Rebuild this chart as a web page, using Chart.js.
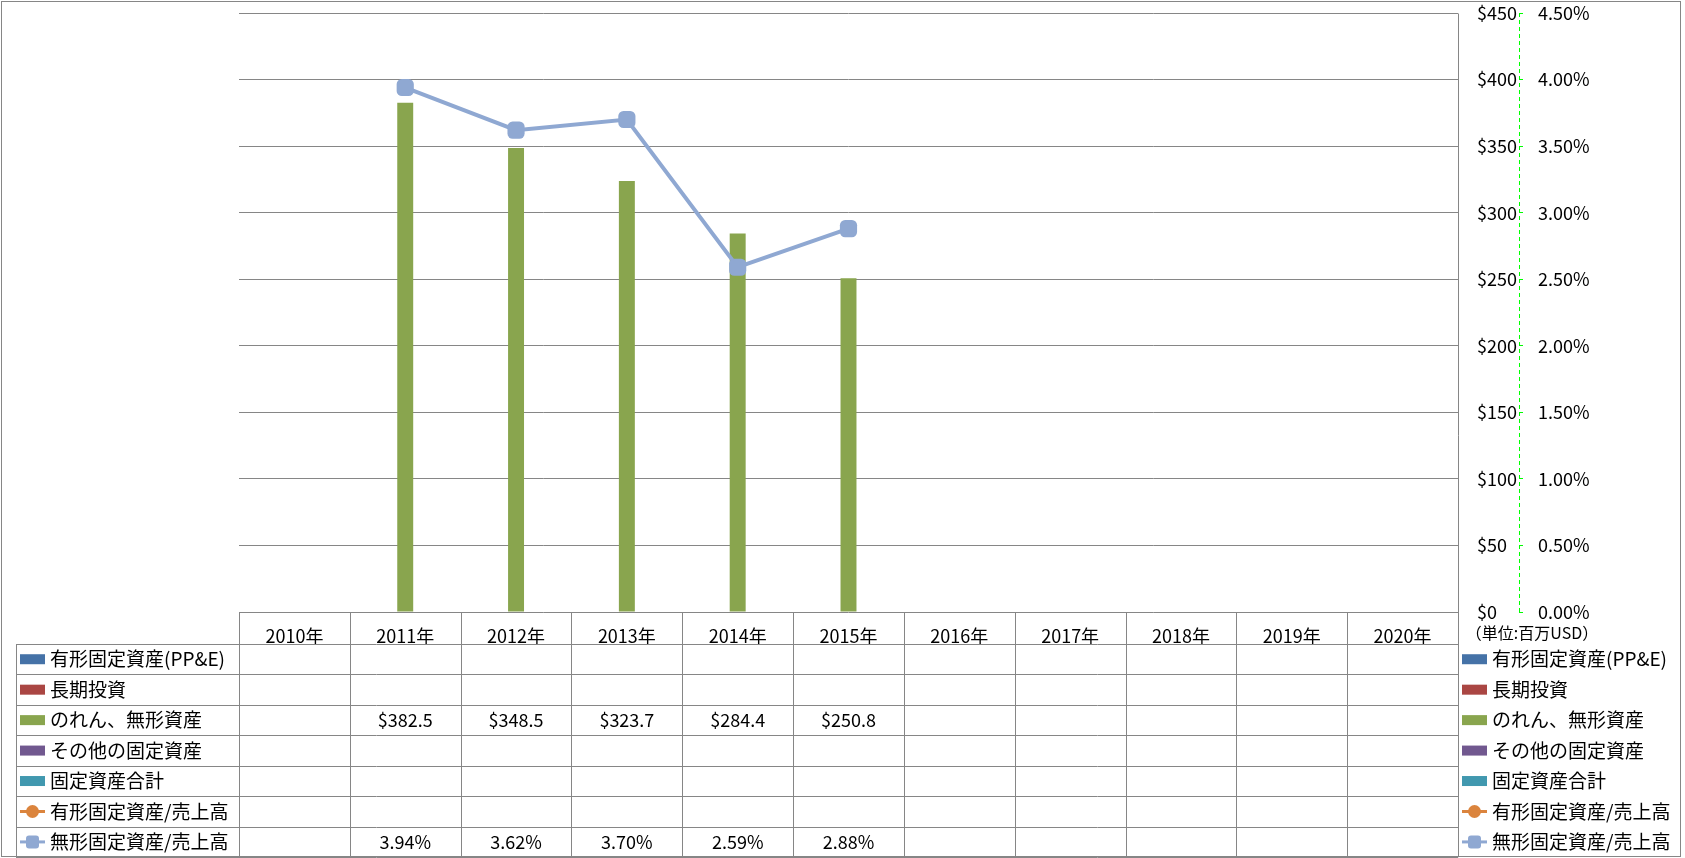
<!DOCTYPE html>
<html>
<head>
<meta charset="utf-8">
<script src="https://cdn.jsdelivr.net/npm/chart.js"></script>
<style>
  body { margin: 0; background: #fff; }
  #wrap { width: 1685px; height: 858px; }
</style>
</head>
<body>
<div id="wrap"><canvas id="assetChart" width="1685" height="858"></canvas></div>
<script>
// categories
const years = ["2010年", "2011年", "2012年", "2013年", "2014年", "2015年", "2016年", "2017年", "2018年", "2019年", "2020年"];

// bar series (百万USD)
const ppe = [null, null, null, null, null, null, null, null, null, null, null];
const longTermInvest = [null, null, null, null, null, null, null, null, null, null, null];
const goodwillIntangibles = [null, 382.5, 348.5, 323.7, 284.4, 250.8, null, null, null, null, null];
const otherFixed = [null, null, null, null, null, null, null, null, null, null, null];
const totalFixed = [null, null, null, null, null, null, null, null, null, null, null];

// line series (%)
const ppeToSales = [null, null, null, null, null, null, null, null, null, null, null];
const intangibleToSales = [null, 3.94, 3.62, 3.70, 2.59, 2.88, null, null, null, null, null];

// axis ranges
const dollarMax = 450, dollarStep = 50;
const pctMax = 4.5, pctStep = 0.5;
const unitLabel = "（単位:百万USD）";

const FONT = "'Noto Sans CJK JP', sans-serif";
const GRID = "#868686";

const series = [
  { label: "有形固定資産(PP&E)", data: ppe, color: "#4572A7", kind: "bar" },
  { label: "長期投資", data: longTermInvest, color: "#AA4643", kind: "bar" },
  { label: "のれん、無形資産", data: goodwillIntangibles, color: "#89A54E", kind: "bar" },
  { label: "その他の固定資産", data: otherFixed, color: "#71588F", kind: "bar" },
  { label: "固定資産合計", data: totalFixed, color: "#4198AF", kind: "bar" },
  { label: "有形固定資産/売上高", data: ppeToSales, color: "#DB843D", kind: "line", marker: "circle" },
  { label: "無形固定資産/売上高", data: intangibleToSales, color: "#8FA8D2", kind: "line", marker: "rectRounded" }
];

function fmt(s, v) {
  if (v === null || v === undefined) return "";
  return s.kind === "bar" ? "$" + v.toFixed(1) : v.toFixed(2) + "%";
}

function drawKey(ctx, s, x, y) {
  ctx.save();
  if (s.kind === "bar") {
    ctx.fillStyle = s.color;
    ctx.fillRect(x, y - 5, 25, 10);
  } else {
    ctx.strokeStyle = s.color;
    ctx.lineWidth = 3;
    ctx.beginPath();
    ctx.moveTo(x, y);
    ctx.lineTo(x + 25, y);
    ctx.stroke();
    ctx.fillStyle = s.color;
    if (s.marker === "circle") {
      ctx.beginPath();
      ctx.arc(x + 12.5, y, 6.5, 0, Math.PI * 2);
      ctx.fill();
    } else {
      ctx.beginPath();
      ctx.roundRect(x + 6, y - 6.5, 13, 13, 3);
      ctx.fill();
    }
  }
  ctx.restore();
}

const tablePlugin = {
  id: "dataTable",
  afterDraw(chart) {
    const ctx = chart.ctx;
    const area = chart.chartArea;
    const xs = chart.scales.x;
    const y2 = chart.scales.y2;
    const left = area.left, right = area.right;
    const colW = (right - left) / years.length;
    const headTop = area.bottom;
    const headBottom = xs.bottom;
    const rowH = 30.45;
    const tableBottom = headBottom + rowH * series.length;
    const keyColLeft = 16;
    const px = v => Math.round(v) + 0.5;

    ctx.save();
    ctx.strokeStyle = GRID;
    ctx.lineWidth = 1;
    ctx.beginPath();
    // vertical lines
    for (let i = 0; i < years.length; i++) {
      const x = px(left + i * colW);
      ctx.moveTo(x, px(headTop));
      ctx.lineTo(x, tableBottom);
    }
    ctx.moveTo(px(right), px(area.top));
    ctx.lineTo(px(right), tableBottom);
    ctx.moveTo(px(keyColLeft), px(headBottom));
    ctx.lineTo(px(keyColLeft), tableBottom);
    // horizontal lines
    for (let r = 0; r <= series.length; r++) {
      const y = px(headBottom + r * rowH);
      ctx.moveTo(keyColLeft, y);
      ctx.lineTo(right, y);
    }
    ctx.stroke();

    // outer border
    ctx.strokeRect(1.5, 1.5, 1679, 855);

    // dashed secondary axis line
    ctx.strokeStyle = "#00FF00";
    ctx.setLineDash([4, 3]);
    ctx.beginPath();
    ctx.moveTo(px(y2.left), y2.getPixelForValue(pctMax));
    ctx.lineTo(px(y2.left), y2.getPixelForValue(0));
    ctx.stroke();
    ctx.setLineDash([]);

    ctx.fillStyle = "#000";
    ctx.textBaseline = "middle";
    series.forEach((s, r) => {
      const cy = headBottom + r * rowH + rowH / 2;
      drawKey(ctx, s, 20, cy);
      ctx.font = "19px " + FONT;
      ctx.textAlign = "left";
      ctx.fillText(s.label, 50, cy);
      ctx.font = "18px " + FONT;
      ctx.textAlign = "center";
      s.data.forEach((v, i) => {
        const t = fmt(s, v);
        if (t) ctx.fillText(t, left + i * colW + colW / 2, cy);
      });
      // right-hand legend
      drawKey(ctx, s, 1462, cy);
      ctx.font = "19px " + FONT;
      ctx.textAlign = "left";
      ctx.fillText(s.label, 1492, cy);
    });

    ctx.font = "16px " + FONT;
    ctx.textAlign = "center";
    ctx.fillText(unitLabel, 1532, 633);
    ctx.restore();
  }
};

Chart.defaults.color = "#000";
Chart.defaults.font.family = FONT;
Chart.defaults.font.size = 18;

const datasets = series.map(s => {
  if (s.kind === "bar") {
    return {
      type: "bar",
      label: s.label,
      data: s.data,
      backgroundColor: s.color,
      yAxisID: "y",
      categoryPercentage: 0.72,
      barPercentage: 1,
      order: 2
    };
  }
  return {
    type: "line",
    label: s.label,
    data: s.data,
    borderColor: s.color,
    backgroundColor: s.color,
    borderWidth: 4,
    pointStyle: s.marker,
    pointRadius: 10,
    pointBackgroundColor: s.color,
    pointBorderColor: s.color,
    pointBorderWidth: 0,
    yAxisID: "y2",
    order: 1
  };
});

const noPad = scale => { scale.paddingTop = 0; scale.paddingBottom = 0; };

const ctx = document.getElementById("assetChart").getContext("2d");
const assetChart = new Chart(ctx, {
  type: "bar",
  data: { labels: years, datasets: datasets },
  options: {
    responsive: false,
    animation: false,
    layout: { padding: { left: 239, right: 85, top: 13, bottom: 214 } },
    plugins: { legend: { display: false }, tooltip: { enabled: false } },
    scales: {
      x: {
        offset: true,
        grid: { display: false },
        border: { display: false },
        ticks: { padding: 5, maxRotation: 0 },
        afterFit: scale => { scale.height = 32; }
      },
      y: {
        position: "right",
        weight: 0,
        min: 0,
        max: dollarMax,
        ticks: { stepSize: dollarStep, padding: 19, callback: v => "$" + v },
        grid: { color: GRID, drawTicks: false },
        border: { display: false },
        afterFit: scale => { scale.width = 61; noPad(scale); }
      },
      y2: {
        position: "right",
        weight: 1,
        min: 0,
        max: pctMax,
        ticks: { stepSize: pctStep, padding: 15, callback: v => v.toFixed(2) + "%" },
        grid: { drawOnChartArea: false, drawTicks: true, tickLength: 4, color: "#00FF00" },
        border: { display: false },
        afterFit: scale => { scale.width = 81; noPad(scale); }
      }
    }
  },
  plugins: [tablePlugin]
});
</script>
</body>
</html>
